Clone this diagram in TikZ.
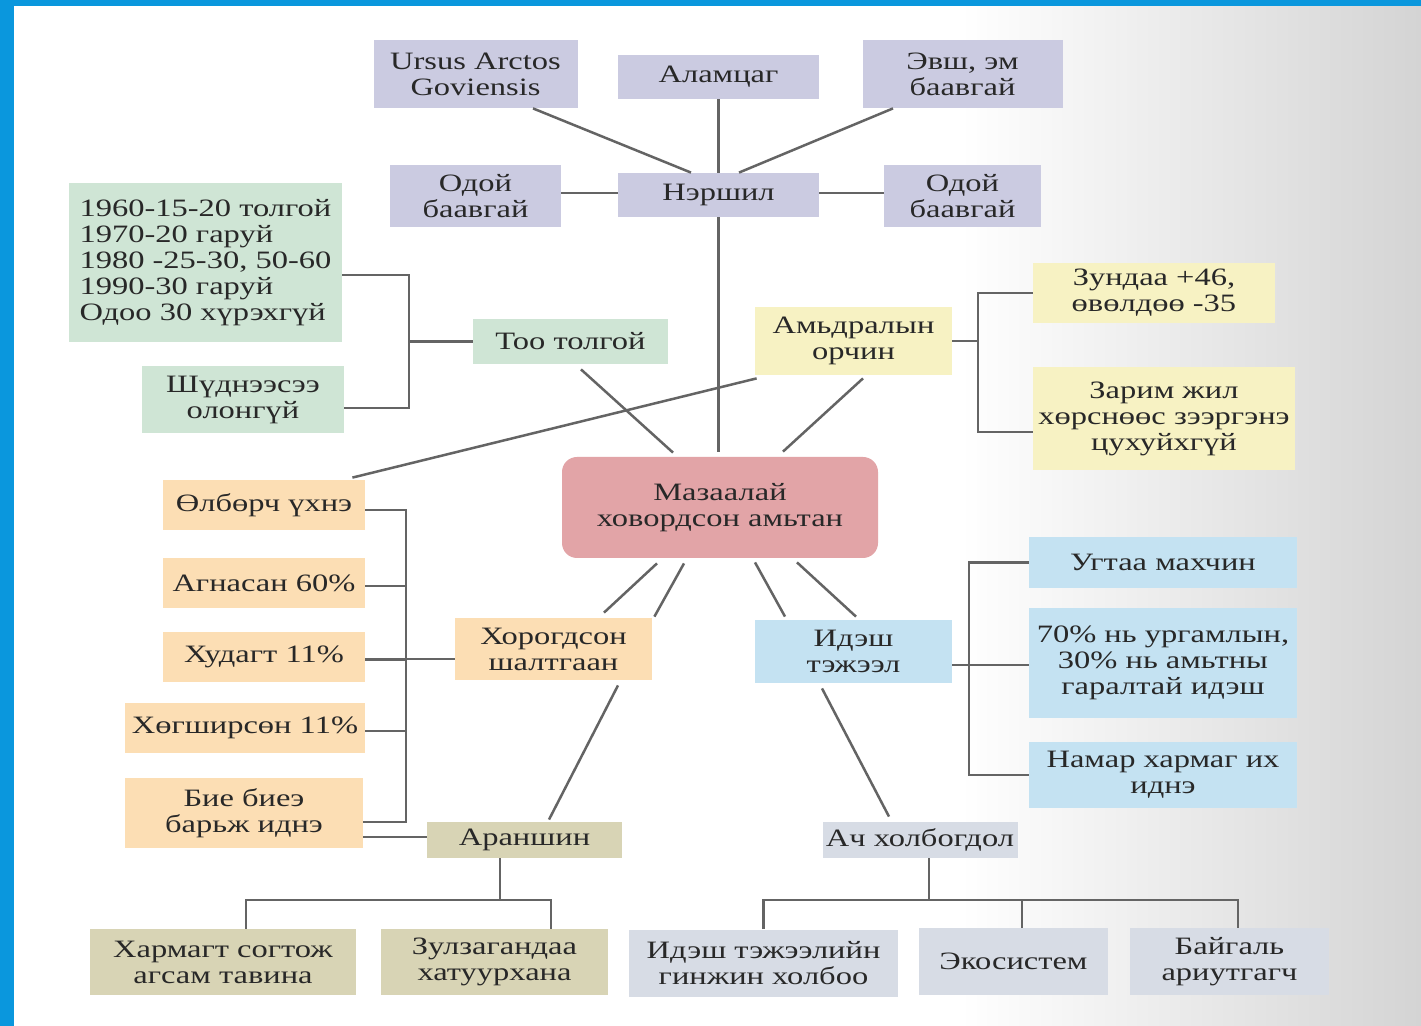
\documentclass[tikz,border=0pt]{standalone}
\usepackage{fontspec}
\setmainfont[FakeStretch=1.3]{Liberation Serif}
\usetikzlibrary{calc}
\definecolor{frameblue}{RGB}{10,151,221}
\definecolor{bgGray}{RGB}{212,212,212}
\definecolor{ink}{RGB}{40,40,40}
\definecolor{wire}{RGB}{100,100,100}
\definecolor{nameC}{RGB}{203,203,225}
\definecolor{countC}{RGB}{207,229,213}
\definecolor{habC}{RGB}{247,242,195}
\definecolor{lossC}{RGB}{252,222,180}
\definecolor{hubC}{RGB}{226,164,167}
\definecolor{foodC}{RGB}{196,226,242}
\definecolor{behC}{RGB}{216,212,181}
\definecolor{valC}{RGB}{215,220,229}

\begin{document}
\begin{tikzpicture}[x=0.5pt,y=-0.5pt,
    box/.style={inner sep=0pt, align=center, text=ink,
      font=\fontsize{12.5}{13}\selectfont},
    namebox/.style={box, fill=nameC},
    countbox/.style={box, fill=countC},
    habbox/.style={box, fill=habC},
    lossbox/.style={box, fill=lossC},
    foodbox/.style={box, fill=foodC},
    behbox/.style={box, fill=behC},
    valbox/.style={box, fill=valC},
    link/.style={draw=wire, line width=1.25pt}]
  % background and frame
  \fill[white] (0,0) rectangle (1421,1026);
  \shade[left color=white, right color=bgGray] (960,6) rectangle (1421,1026);
  \fill[frameblue] (0,0) rectangle (1421,6);
  \fill[frameblue] (0,0) rectangle (14,1026);
  \useasboundingbox (0,0) rectangle (1421,1026);

  % names
  \node[namebox, minimum width=102pt, minimum height=34pt] (ursus) at (475.5,74) {Ursus Arctos\\Goviensis};
  \node[namebox, minimum width=100.5pt, minimum height=22pt] (alam) at (718.5,77) {Аламцаг};
  \node[namebox, minimum width=100pt, minimum height=34pt] (evsh) at (962.5,74) {Эвш, эм\\баавгай};
  \node[namebox, minimum width=85.5pt, minimum height=31pt] (odoi_l) at (475.5,196) {Одой\\баавгай};
  \node[namebox, minimum width=100.5pt, minimum height=22pt] (nersh) at (718.5,195) {Нэршил};
  \node[namebox, minimum width=78.5pt, minimum height=31pt] (odoi_r) at (962.5,196) {Одой\\баавгай};

  % head count
  \node[countbox, minimum width=136.5pt, minimum height=79.5pt, align=left] (stats) at (205.5,262.5)
    {1960-15-20 толгой\\1970-20 гаруй\\1980 -25-30, 50-60\\1990-30 гаруй\\Одоо 30 хүрэхгүй};
  \node[countbox, minimum width=101pt, minimum height=33.5pt] (shud) at (243,399.5) {Шүднээсээ\\олонгүй};
  \node[countbox, minimum width=97.5pt, minimum height=22.5pt] (too) at (570.5,341.5) {Тоо толгой};

  % habitat
  \node[habbox, minimum width=98.5pt, minimum height=34pt] (amdral) at (853.5,341) {Амьдралын\\орчин};
  \node[habbox, minimum width=121pt, minimum height=30pt] (zundaa) at (1154,293) {Зундаа +46,\\өвөлдөө -35};
  \node[habbox, minimum width=131pt, minimum height=51.5pt] (zarim) at (1164,418.5) {Зарим жил\\хөрснөөс зээргэнэ\\цухуйхгүй};

  % centre
  \node[box, fill=hubC, rounded corners=7.5pt, minimum width=158pt, minimum height=50.5pt] (hub) at (720,507.5)
    {Мазаалай\\ховордсон амьтан};

  % causes
  \node[lossbox, minimum width=101pt, minimum height=25pt] (olb) at (264,505) {Өлбөрч үхнэ};
  \node[lossbox, minimum width=101pt, minimum height=25pt] (agn) at (264,583) {Агнасан 60\%};
  \node[lossbox, minimum width=101pt, minimum height=25pt] (hud) at (264,657) {Худагт 11\%};
  \node[lossbox, minimum width=120pt, minimum height=25pt] (hug) at (245,728) {Хөгширсөн 11\%};
  \node[lossbox, minimum width=119pt, minimum height=35pt] (bie) at (244,813) {Бие биеэ\\барьж иднэ};
  \node[lossbox, minimum width=98.5pt, minimum height=31pt] (horog) at (553.5,649) {Хорогдсон\\шалтгаан};

  % behaviour
  \node[behbox, minimum width=97.5pt, minimum height=18pt] (aran) at (524.5,840) {Араншин};
  \node[behbox, minimum width=133pt, minimum height=33pt] (harm) at (223,962) {Хармагт согтож\\агсам тавина};
  \node[behbox, minimum width=113.5pt, minimum height=33pt] (zulz) at (494.5,962) {Зулзагандаа\\хатуурхана};

  % food
  \node[foodbox, minimum width=98.5pt, minimum height=31.5pt] (idesh) at (853.5,651.5) {Идэш\\тэжээл};
  \node[foodbox, minimum width=134pt, minimum height=25.5pt] (ugtaa) at (1163,562.5) {Угтаа махчин};
  \node[foodbox, minimum width=134pt, minimum height=55pt] (pct) at (1163,663) {70\% нь ургамлын,\\30\% нь амьтны\\гаралтай идэш};
  \node[foodbox, minimum width=134pt, minimum height=33pt] (namar) at (1163,775) {Намар хармаг их\\иднэ};

  % value
  \node[valbox, minimum width=97.5pt, minimum height=18pt] (ach) at (920,840) {Ач холбогдол};
  \node[valbox, minimum width=134.5pt, minimum height=33.5pt] (chain) at (763.5,963) {Идэш тэжээлийн\\гинжин холбоо};
  \node[valbox, minimum width=94.5pt, minimum height=33.5pt] (eko) at (1013.5,961.5) {Экосистем};
  \node[valbox, minimum width=99.5pt, minimum height=33.5pt] (baig) at (1229.5,961.5) {Байгаль\\ариутгагч};

  % junctions
  \coordinate (sj) at (409,341.5);
  \coordinate (aj) at (978,341);
  \coordinate (cj_t) at (406,510);
  \coordinate (cj_b) at (406,822);
  \coordinate (ij) at (969,665);
  \coordinate (rj) at (500,900);
  \coordinate (vj) at (929,900);

  % names
  \draw[link] ([shift={(57.5,0)}]ursus.south) -- ([shift={(-27.5,0)}]nersh.north);
  \draw[link] (alam.south) -- (nersh.north);
  \draw[link] ([shift={(-69.5,0)}]evsh.south) -- ([shift={(20.5,0)}]nersh.north);
  \draw[link] ([shift={(0,-3)}]odoi_l.east) -- ([shift={(0,-3)}]odoi_l.east -| nersh.west);
  \draw[link] ([shift={(0,-3)}]odoi_r.west) -- ([shift={(0,-3)}]odoi_r.west -| nersh.east);
  \draw[link, shorten >=5pt*0.5] (nersh.south) -- (nersh.south |- hub.north);

  % head count
  \draw[link] ([shift={(0,12.5)}]stats.east) -| (sj) |- ([shift={(0,8.5)}]shud.east);
  \draw[link] (sj) -- (too.west);
  \draw[link] ([shift={(10.5,5)}]too.south) -- ([shift={(-47,-4)}]hub.north);

  % habitat
  \draw[link] ([shift={(9.5,3)}]amdral.south) -- ([shift={(63,-5)}]hub.north);
  \draw[link] ([shift={(2,3)}]amdral.south west) -- ([shift={(-13,-2)}]olb.north east);
  \draw[link] (amdral.east) -- (aj);
  \draw[link] (zundaa.west) -| (aj) |- ([shift={(0,13.5)}]zarim.west);

  % causes
  \draw[link] ([shift={(-63,5)}]hub.south) -- ([shift={(50.5,-5)}]horog.north);
  \draw[link] ([shift={(-36,5)}]hub.south) -- ([shift={(2,-1)}]horog.north east);
  \draw[link] ([shift={(0,5)}]olb.east) -- (cj_t) -- (cj_b) -- ([shift={(0,9)}]bie.east);
  \foreach \n in {agn, hud, hug}
    \draw[link] ([shift={(0,3)}]\n.east) -- ([shift={(0,3)}]\n.east -| cj_t);
  \draw[link] ([shift={(0,2)}]hud.east) -- ([shift={(0,10)}]horog.west);
  \draw[link] ([shift={(0,24)}]bie.east) -- ([shift={(0,-3)}]aran.west);
  \draw[link] ([shift={(64.5,5)}]horog.south) -- ([shift={(24.5,-2)}]aran.north);

  % behaviour
  \draw[link] (rj |- aran.south) -- (rj);
  \draw[link] ([shift={(23,0)}]harm.north) |- (rj) -| ([shift={(56.5,0)}]zulz.north);

  % food
  \draw[link] ([shift={(35,4)}]hub.south) -- ([shift={(-68.5,-3)}]idesh.north);
  \draw[link] ([shift={(77,4)}]hub.south) -- ([shift={(2.5,-3)}]idesh.north);
  \draw[link] ([shift={(0,13.5)}]idesh.east) -- (ij -| pct.west);
  \draw[link] (ugtaa.west) -| (ij) |- (namar.west);
  \draw[link] ([shift={(-31.5,5)}]idesh.south) -- ([shift={(-31,-5)}]ach.north);

  % value
  \draw[link] (vj |- ach.south) -- (vj);
  \draw[link] (chain.north) |- (vj) -| ([shift={(8.5,0)}]eko.north);
  \draw[link] (vj) -| ([shift={(8.5,0)}]baig.north);
\end{tikzpicture}
\end{document}
